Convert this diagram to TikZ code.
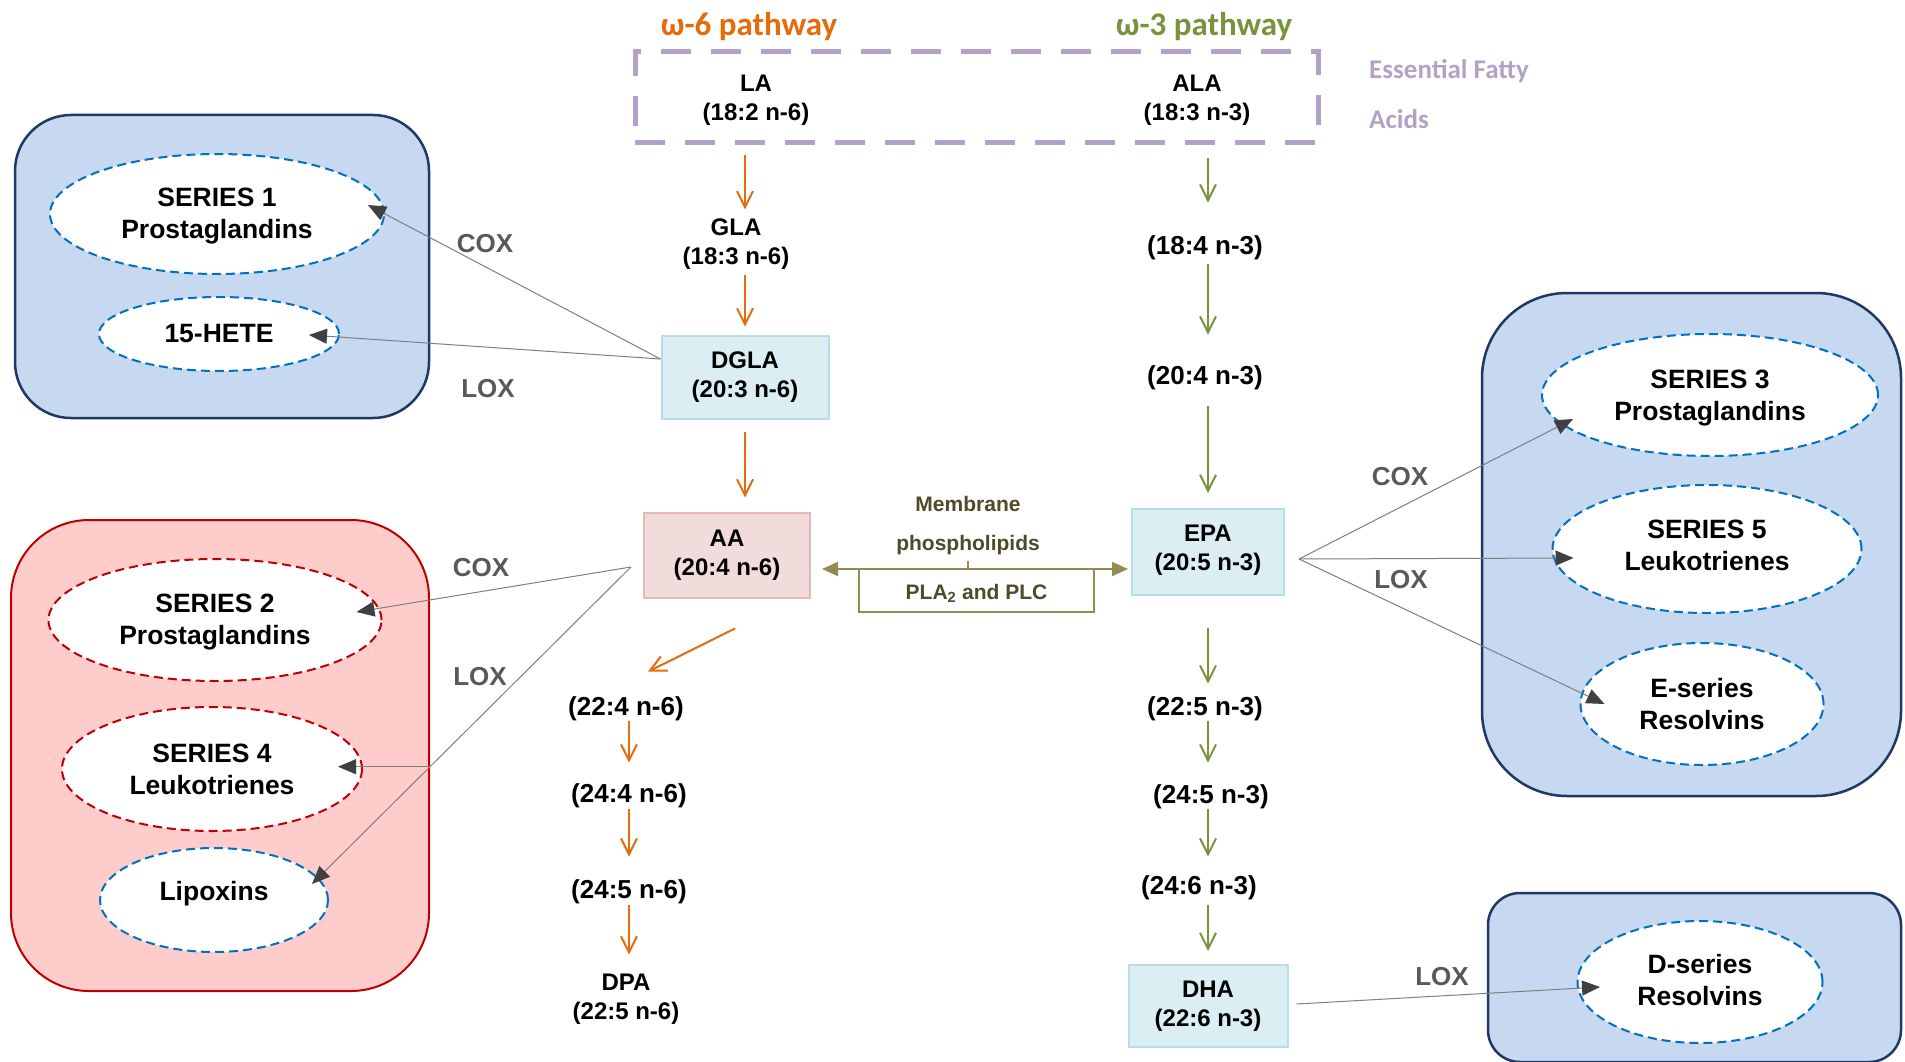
\documentclass[tikz,border=0pt]{standalone}
\usepackage{fontspec}
\setmainfont{Liberation Sans}
\newfontfamily\calfont{Carlito}
\usetikzlibrary{arrows.meta,shapes.geometric}
\definecolor{orw}{HTML}{E46C0A}
\definecolor{grw}{HTML}{77933C}
\definecolor{lav}{HTML}{B3A2C7}
\definecolor{pblue}{HTML}{C6D9F1}
\definecolor{navy}{HTML}{1F3864}
\definecolor{ppink}{HTML}{FFCCCC}
\definecolor{dred}{HTML}{C00000}
\definecolor{eblue}{HTML}{0070C0}
\definecolor{bfill}{HTML}{DAEEF3}
\definecolor{bline}{HTML}{B7DDE8}
\definecolor{afill}{HTML}{F2DCDB}
\definecolor{aline}{HTML}{E6B9B8}
\definecolor{olv}{HTML}{948A54}
\definecolor{olvtext}{HTML}{4F4A28}
\definecolor{gtext}{HTML}{595959}
\definecolor{gline}{HTML}{7F7F7F}
\definecolor{gtip}{HTML}{404040}
\begin{document}
\begin{tikzpicture}[x=1pt,y=-1pt,
  panelB/.style={draw=navy,line width=2.5pt,fill=pblue,inner sep=0pt},
  panelR/.style={draw=dred,line width=2pt,fill=ppink,inner sep=0pt},
  ell/.style={ellipse,draw=eblue,fill=white,line width=2pt,dash pattern=on 9pt off 5pt,inner sep=0pt},
  ellr/.style={ell,draw=dred},
  etext/.style={inner sep=0pt,align=center,font=\bfseries\fontsize{26.5}{32}\selectfont},
  twol/.style={inner sep=0pt,align=center,font=\bfseries\fontsize{24}{29}\selectfont},
  onel/.style={inner sep=0pt,yshift=-3.6pt,font=\bfseries\fontsize{26}{30}\selectfont},
  bbox/.style={twol,draw=bline,fill=bfill,line width=2pt},
  abox/.style={twol,draw=aline,fill=afill,line width=2pt},
  oarr/.style={draw=orw,line width=2pt,-{Straight Barb[length=16pt,width=16pt]}},
  garr/.style={draw=grw,line width=2pt,-{Straight Barb[length=16pt,width=16pt]}},
  gcon/.style={draw=gline,line width=1pt,-{Triangle[length=18pt,width=15pt,color=gtip]}},
  enz/.style={inner sep=0pt,text=gtext,font=\bfseries\fontsize{26}{30}\selectfont},
  titl/.style={inner sep=0pt,font=\calfont\bfseries\fontsize{33}{38}\selectfont},
  efat/.style={inner sep=0pt,anchor=west,text=lav,font=\calfont\bfseries\fontsize{27}{31}\selectfont}
]
\useasboundingbox (0,0) rectangle (1905,1062);
\clip (0,0) rectangle (1905,1062);
\fill[white] (0,0) rectangle (1905,1062);

% panels
\node[panelB,rounded corners=56pt,minimum width=414pt,minimum height=303pt] (pTL) at (222,266.5) {};
\node[panelR,rounded corners=78pt,minimum width=418pt,minimum height=471pt] (pBL) at (220,755.5) {};
\node[panelB,rounded corners=85pt,minimum width=419pt,minimum height=503pt] (pR) at (1691.5,544.5) {};
\node[panelB,rounded corners=32pt,minimum width=413pt,minimum height=169pt] (pBR) at (1694.5,977.5) {};

% ellipses
\node[ell,minimum width=334pt,minimum height=120pt] (s1) at (217,214) {};
\node[ell,minimum width=240pt,minimum height=74pt] (h15) at (219,334) {};
\node[ellr,minimum width=333pt,minimum height=122pt] (s2) at (215,620) {};
\node[ellr,minimum width=300pt,minimum height=124pt] (s4) at (212,769) {};
\node[ell,minimum width=228pt,minimum height=104pt] (lip) at (214,900) {};
\node[ell,minimum width=336pt,minimum height=122pt] (s3) at (1710,395) {};
\node[ell,minimum width=309pt,minimum height=128pt] (s5) at (1707,549) {};
\node[ell,minimum width=243pt,minimum height=122pt] (es) at (1702,704) {};
\node[ell,minimum width=245pt,minimum height=122pt] (ds) at (1700,982) {};
\node[etext] (s1t) at ([yshift=-2.5pt]s1.center) {SERIES 1\\Prostaglandins};
\node[etext] (h15t) at (h15.center) {15-HETE};
\node[etext] (s2t) at ([yshift=-2pt]s2.center) {SERIES 2\\Prostaglandins};
\node[etext] (s4t) at (s4.center) {SERIES 4\\Leukotrienes};
\node[etext] (lipt) at ([yshift=6pt]lip.center) {Lipoxins};
\node[etext] (s3t) at ([yshift=-3pt]s3.center) {SERIES 3\\Prostaglandins};
\node[etext] (s5t) at ([yshift=3.6pt]s5.center) {SERIES 5\\Leukotrienes};
\node[etext] (est) at (es.center) {E-series\\Resolvins};
\node[etext] (dst) at ([yshift=1.6pt]ds.center) {D-series\\Resolvins};

% titles and essential fatty acids
\node[titl,text=orw] (t6) at (749,26.5) {ω-6 pathway};
\node[titl,text=grw] (t3) at (1204,26.5) {ω-3 pathway};
\node[draw=lav,line width=5pt,dash pattern=on 30pt off 20pt,minimum width=683pt,minimum height=90pt,inner sep=0pt] (efa) at (976.5,97) {};
\node[efat] (ef1) at (1369,71) {Essential Fatty};
\node[efat] (ef2) at (1369,119) {Acids};
\node[twol] (LA) at (756,100) {LA\\(18:2 n-6)};
\node[twol] (ALA) at (1197,100) {ALA\\(18:3 n-3)};

% omega-6 chain
\node[twol] (GLA) at (736,244) {GLA\\(18:3 n-6)};
\node[bbox,minimum width=167pt,minimum height=83pt] (DGLA) at (745,377) {DGLA\\(20:3 n-6)};
\node[abox,minimum width=166pt,minimum height=85pt] (AA) at (727,555) {AA\\(20:4 n-6)};
\node[onel] (n224) at (626,705) {(22:4 n-6)};
\node[onel] (n244) at (629,792) {(24:4 n-6)};
\node[onel] (n245) at (629,888) {(24:5 n-6)};
\node[twol] (DPA) at (626,999) {DPA\\(22:5 n-6)};

% omega-3 chain
\node[onel] (n184) at (1205,244) {(18:4 n-3)};
\node[onel] (n204) at (1205,374) {(20:4 n-3)};
\node[bbox,minimum width=152pt,minimum height=86pt,text depth=8pt] (EPA) at (1208,552) {EPA\\(20:5 n-3)};
\node[onel] (n225) at (1205,705) {(22:5 n-3)};
\node[onel] (n245b) at (1211,793) {(24:5 n-3)};
\node[onel] (n246) at (1199,884) {(24:6 n-3)};
\node[bbox,minimum width=159pt,minimum height=82pt] (DHA) at (1208,1006) {DHA\\(22:6 n-3)};

% membrane
\node[inner sep=0pt,align=center,text=olvtext,font=\bfseries\fontsize{21}{39}\selectfont] (memb) at (968,526) {Membrane\\phospholipids};
\node[draw=olv,line width=2pt,minimum width=235pt,minimum height=43pt,inner sep=0pt,text height=20pt,text depth=3pt,text=olvtext,font=\bfseries\fontsize{21}{25}\selectfont] (plc) at (976.5,590.5) {PLA\textsubscript{2} and PLC};
\draw[olv,line width=2pt,{Triangle[length=16pt,width=14pt]}-{Triangle[length=16pt,width=14pt]}] ([xshift=11pt,yshift=-14pt]AA.east) -- ([xshift=-3pt,yshift=-17pt]EPA.west);
\draw[olv,line width=1.5pt] ([yshift=-6pt]memb.south) -- (memb.south |- plc.north);

% orange arrows
\draw[oarr,shorten <=30pt,shorten >=9pt] (LA.south -| DGLA.north) -- (GLA.north -| DGLA.north);
\draw[oarr,shorten <=5pt,shorten >=8pt] (GLA.south -| DGLA.north) -- (DGLA.north);
\draw[oarr,shorten <=12pt,shorten >=14pt] (DGLA.south) -- (AA.north -| DGLA.south);
\draw[oarr] ([xshift=8pt,yshift=-30pt]AA.south) -- ([xshift=22pt,yshift=24.6pt]n224.north);
\draw[oarr,shorten <=0pt,shorten >=20.6pt] (n224.south -| n244.north) -- (n244.north);
\draw[oarr,shorten <=1.4pt,shorten >=22.6pt] (n244.south) -- (n245.north);
\draw[oarr,shorten <=1.4pt,shorten >=19pt] (n245.south) -- (DPA.north -| n245.south);

% green arrows
\draw[garr,shorten <=33pt,shorten >=32.6pt] (ALA.south -| EPA.north) -- (n184.north -| EPA.north);
\draw[garr,shorten <=4.4pt,shorten >=30.6pt] (n184.south -| EPA.north) -- (n204.north -| EPA.north);
\draw[garr,shorten <=16.4pt,shorten >=15pt] (n204.south -| EPA.north) -- (EPA.north);
\draw[garr,shorten <=32pt,shorten >=12.6pt] (EPA.south) -- (n225.north -| EPA.south);
\draw[garr,shorten <=0pt,shorten >=21.6pt] (n225.south -| EPA.south) -- (n245b.north -| EPA.south);
\draw[garr,shorten <=0.4pt,shorten >=18.6pt] (n245b.south -| EPA.south) -- (n246.north -| EPA.south);
\draw[garr,shorten <=5.4pt,shorten >=13pt] (n246.south -| EPA.south) -- (DHA.north);

% enzyme connectors
\coordinate (dg) at ([yshift=18pt]DGLA.west);
\draw[gcon] (dg) -- ([xshift=-17pt,yshift=9pt]s1.east);
\draw[gcon] (dg) -- ([xshift=-31pt,yshift=-1pt]h15.east);
\coordinate (aa) at ([xshift=-12pt,yshift=-12pt]AA.west);
\draw[gcon] (aa) -- ([xshift=-26pt,yshift=8pt]s2.east);
\draw[gcon] (aa) -- coordinate[pos=0.63] (br) ([xshift=-17pt,yshift=16pt]lip.east);
\draw[gcon,shorten >=-25pt] (br) -- (br -| s4.east);
\coordinate (ep) at ([xshift=14pt,yshift=-7pt]EPA.east);
\draw[gcon] (ep) -- ([xshift=32pt,yshift=-24pt]s3.west);
\draw[gcon] (ep) -- ([xshift=22pt,yshift=-9pt]s5.west);
\draw[gcon] (ep) -- ([xshift=25pt]es.west);
\coordinate (dh) at ([xshift=8pt,yshift=2pt]DHA.east);
\draw[gcon] (dh) -- ([xshift=23.5pt,yshift=-5pt]ds.west);

% enzyme labels
\node[enz] (cox1) at (485,243.6) {COX};
\node[enz] (lox1) at (488,388.4) {LOX};
\node[enz] (cox2) at (481,567.2) {COX};
\node[enz] (lox2) at (480,676.4) {LOX};
\node[enz] (cox3) at (1400,476.2) {COX};
\node[enz] (lox3) at (1401,580) {LOX};
\node[enz] (lox4) at (1442,977) {LOX};
\end{tikzpicture}
\end{document}
